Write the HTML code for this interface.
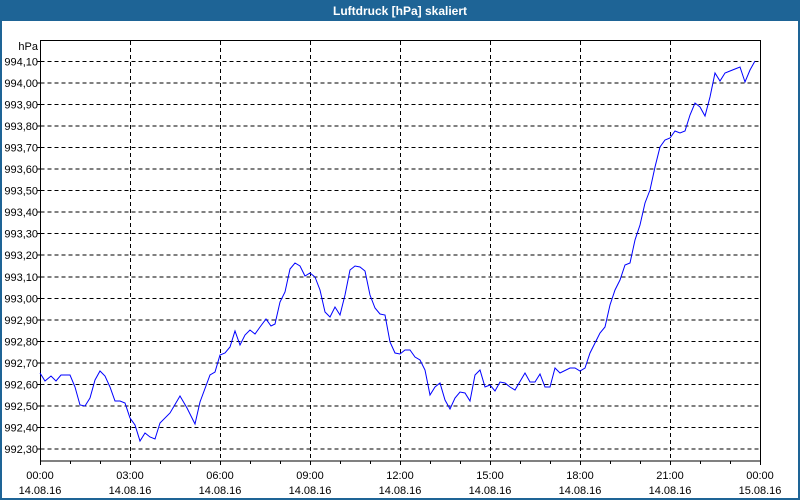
<!DOCTYPE html>
<html><head><meta charset="utf-8"><style>
html,body{margin:0;padding:0;background:#fff;}
svg{display:block;font-family:"Liberation Sans","DejaVu Sans",sans-serif;}
</style></head><body>
<svg width="800" height="500" viewBox="0 0 800 500" xmlns="http://www.w3.org/2000/svg">
<rect x="0" y="0" width="800" height="500" fill="#1e6496"/>
<rect x="2" y="21" width="796" height="477" fill="#fff"/>
<text x="400" y="15" fill="#fff" font-size="12" font-weight="bold" text-anchor="middle">Luftdruck [hPa] skaliert</text>
<g stroke="#000" stroke-width="1" stroke-dasharray="4,3" fill="none" shape-rendering="crispEdges">
<path d="M40.5 61.5H760M40.5 83H760M40.5 104.5H760M40.5 126H760M40.5 147.5H760M40.5 169H760M40.5 190.5H760M40.5 212H760M40.5 233.5H760M40.5 255H760M40.5 277H760M40.5 298.5H760M40.5 320H760M40.5 341.5H760M40.5 363H760M40.5 384.5H760M40.5 406H760M40.5 427.5H760M40.5 449H760"/>
<path d="M130.5 41V461M220.5 41V461M310.5 41V461M400.5 41V461M490.5 41V461M580.5 41V461M670.5 41V461"/>
</g>
<rect x="40.5" y="40.5" width="720" height="420.5" fill="none" stroke="#000" shape-rendering="crispEdges"/>
<g stroke="#000" shape-rendering="crispEdges">
<path d="M37 61.5H40M37 83H40M37 104.5H40M37 126H40M37 147.5H40M37 169H40M37 190.5H40M37 212H40M37 233.5H40M37 255H40M37 277H40M37 298.5H40M37 320H40M37 341.5H40M37 363H40M37 384.5H40M37 406H40M37 427.5H40M37 449H40"/>
<path d="M40.5 461V465M70.5 461V464M100.5 461V464M130.5 461V465M160.5 461V464M190.5 461V464M220.5 461V465M250.5 461V464M280.5 461V464M310.5 461V465M340.5 461V464M370.5 461V464M400.5 461V465M430.5 461V464M460.5 461V464M490.5 461V465M520.5 461V464M550.5 461V464M580.5 461V465M610.5 461V464M640.5 461V464M670.5 461V465M700.5 461V464M730.5 461V464M760.5 461V465"/>
</g>
<g font-size="11" fill="#000" text-anchor="end">
<text x="38" y="50">hPa</text>
<text x="38" y="65.5">994,10</text><text x="38" y="87">994,00</text><text x="38" y="108.5">993,90</text><text x="38" y="130">993,80</text><text x="38" y="151.5">993,70</text><text x="38" y="173">993,60</text><text x="38" y="194.5">993,50</text><text x="38" y="216">993,40</text><text x="38" y="237.5">993,30</text><text x="38" y="259">993,20</text><text x="38" y="281">993,10</text><text x="38" y="302.5">993,00</text><text x="38" y="324">992,90</text><text x="38" y="345.5">992,80</text><text x="38" y="367">992,70</text><text x="38" y="388.5">992,60</text><text x="38" y="410">992,50</text><text x="38" y="431.5">992,40</text><text x="38" y="453">992,30</text>
</g>
<g font-size="11" fill="#000" text-anchor="middle">
<text x="40" y="479">00:00</text><text x="40" y="494">14.08.16</text>
<text x="130" y="479">03:00</text><text x="130" y="494">14.08.16</text>
<text x="220" y="479">06:00</text><text x="220" y="494">14.08.16</text>
<text x="310" y="479">09:00</text><text x="310" y="494">14.08.16</text>
<text x="400" y="479">12:00</text><text x="400" y="494">14.08.16</text>
<text x="490" y="479">15:00</text><text x="490" y="494">14.08.16</text>
<text x="580" y="479">18:00</text><text x="580" y="494">14.08.16</text>
<text x="670" y="479">21:00</text><text x="670" y="494">14.08.16</text>
<text x="760" y="479">00:00</text><text x="760" y="494">15.08.16</text>
</g>
<polyline fill="none" stroke="#0000ff" stroke-width="1" points="40,373 45,381 51,376 56,381 61,375 70,375 75,387 80,405 85,406 90,398 95,380 100,371 105,376 110,387 115,401 120,401 125,403 130,418 135,425 140,441 145,433 150,437 155,439 160,423 170,413 180,396 187,408 195,424 200,402 210,375 215,372 220,355 225,353 230,347 235,331 240,345 245,335 250,330 255,334 260,327 266,319 271,326 275,324 280,302 285,292 290,269 295,263 300,266 305,276 310,273 315,277 320,290 325,312 330,317 335,307 340,315 345,295 350,270 355,266 360,267 365,271 370,295 375,308 380,314 385,315 390,342 395,353 400,354 405,350 410,350 415,357 420,360 425,370 430,395 435,387 440,383 445,400 450,409 455,398 460,392 465,393 470,401 475,375 480,370 485,387 490,385 495,391 500,382 505,383 510,387 515,390 525,373 530,382 535,382 540,374 545,387 550,387 555,368 560,373 570,368 575,368 580,371 585,368 590,353 600,333 605,327 610,305 615,290 620,280 625,265 630,263 635,240 640,225 645,203 650,190 655,167 660,147 665,140 670,138 675,131 680,133 685,131 690,115 695,103 700,107 705,116 710,97 715,73 720,81 725,73 730,71 735,69 740,67 745,82 750,70 755,61"/>
</svg>
</body></html>
